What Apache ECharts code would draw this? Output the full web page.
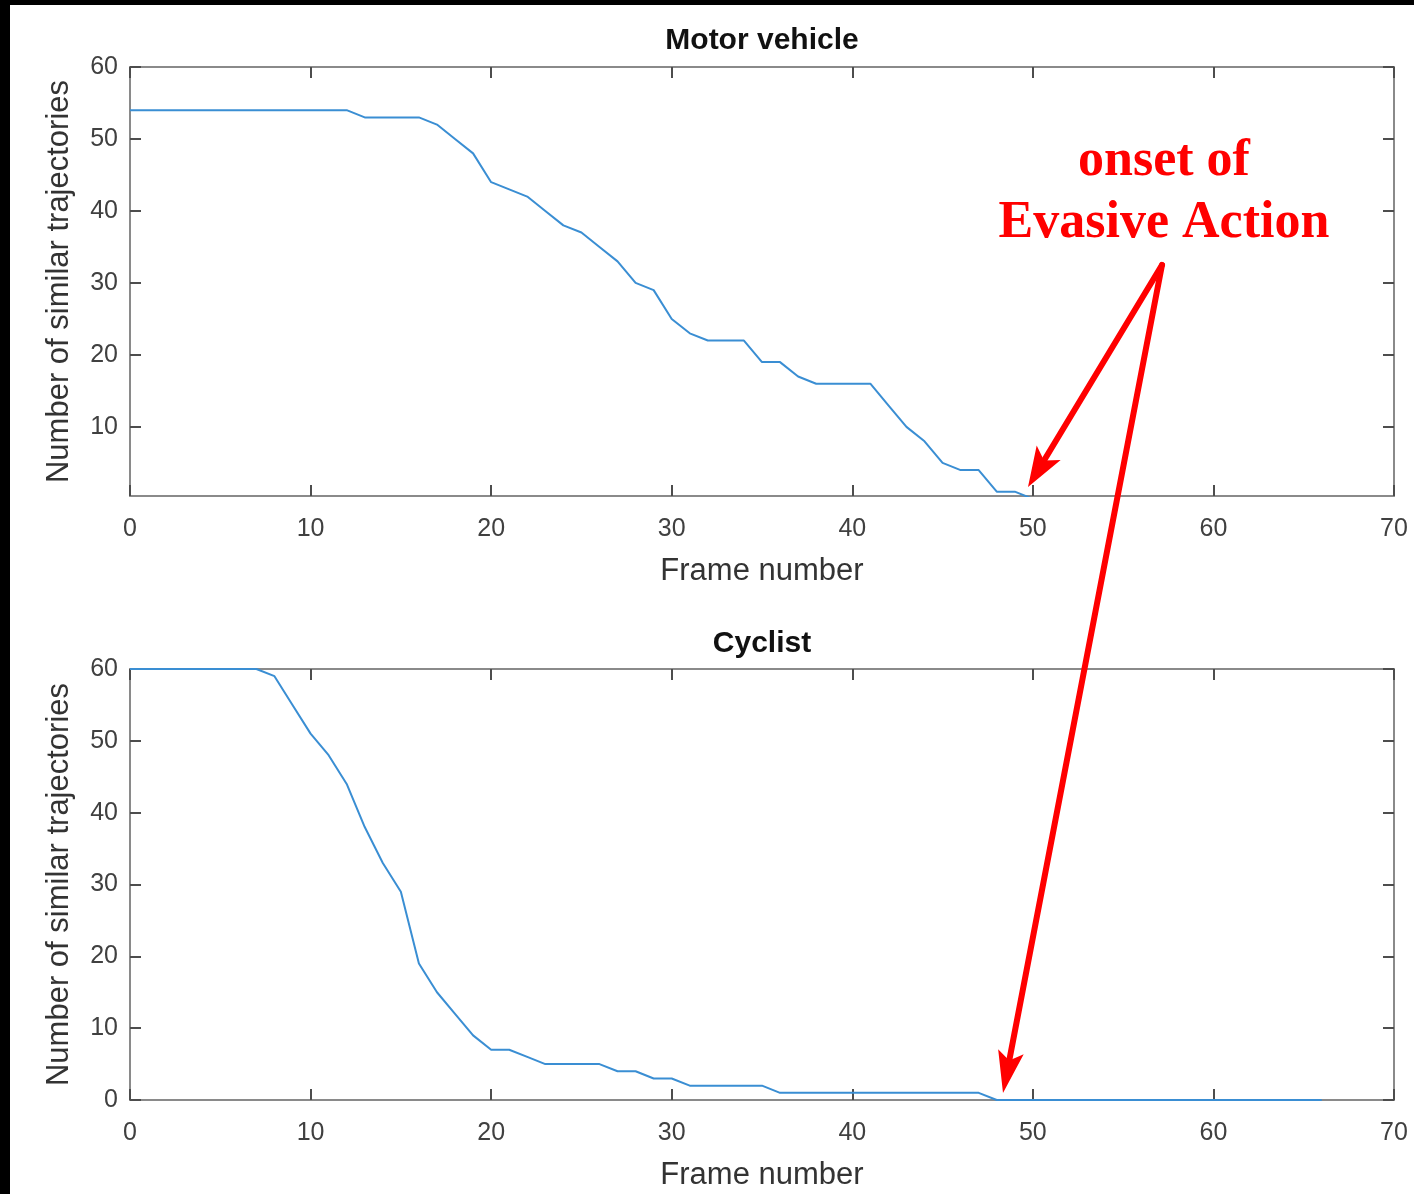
<!DOCTYPE html>
<html>
<head>
<meta charset="utf-8">
<script src="https://cdn.jsdelivr.net/npm/echarts@6/dist/echarts.min.js"></script>
<style>
html,body{margin:0;padding:0;background:#fff;}
#chart{width:1414px;height:1194px;}
</style>
</head>
<body>
<div id="chart"></div>
<script>
// ---- data ----
const motorFrames = [0,1,2,3,4,5,6,7,8,9,10,11,12,13,14,15,16,17,18,19,20,21,22,23,24,25,26,27,28,29,30,31,32,33,34,35,36,37,38,39,40,41,42,43,44,45,46,47,48,49,50];
const motorValues = [54,54,54,54,54,54,54,54,54,54,54,54,54,53,53,53,53,52,50,48,44,43,42,40,38,37,35,33,30,29,25,23,22,22,22,19,19,17,16,16,16,16,13,10,8,5,4,4,1,1,0];
const cyclistFrames = [0,1,2,3,4,5,6,7,8,9,10,11,12,13,14,15,16,17,18,19,20,21,22,23,24,25,26,27,28,29,30,31,32,33,34,35,36,37,38,39,40,41,42,43,44,45,46,47,48,49,50,51,52,53,54,55,56,57,58,59,60,61,62,63,64,65,66];
const cyclistValues = [60,60,60,60,60,60,60,60,59,55,51,48,44,38,33,29,19,15,12,9,7,7,6,5,5,5,5,4,4,3,3,2,2,2,2,2,1,1,1,1,1,1,1,1,1,1,1,1,0,0,0,0,0,0,0,0,0,0,0,0,0,0,0,0,0,0,0];
const xTicks = [0,10,20,30,40,50,60,70];
const yTicks = [10,20,30,40,50,60];
const titles = ['Motor vehicle','Cyclist'];
const xName = 'Frame number';
const yName = 'Number of similar trajectories';
const noteLines = ['onset of','Evasive Action'];

const pair = (xs, ys) => xs.map((x, i) => [x, ys[i]]);

const FONT = 'Liberation Sans, Arial, sans-serif';
const axisLineCol = '#8a8a8a';
const tickCol = '#4d4d4d';
const labelCol = '#404040';

function xAx(grid, top, showName){
  return {
    type:'value', gridIndex:grid, position: top ? 'top' : 'bottom',
    min:0, max:70, interval:10,
    axisLine:{show:true, onZero:false, lineStyle:{color:axisLineCol, width:2}},
    axisTick:{show:true, inside:true, length:11, lineStyle:{color:tickCol, width:2}},
    axisLabel:{show:!top, color:labelCol, fontSize:25, fontFamily:FONT, margin:21},
    splitLine:{show:false},
    name: showName ? xName : '', nameLocation:'middle', nameGap:60,
    nameTextStyle:{fontSize:31, color:'#333', fontFamily:FONT}
  };
}
function yAx(grid, right, minV, showName){
  const vals = yTicks.concat(minV === 0 ? [0] : []);
  return {
    type:'value', gridIndex:grid, position: right ? 'right' : 'left',
    min:minV, max:60,
    axisLine:{show:true, onZero:false, lineStyle:{color:axisLineCol, width:2}},
    axisTick:{show:true, inside:true, length:11, customValues:vals, lineStyle:{color:tickCol, width:2}},
    axisLabel:{show:!right, color:labelCol, fontSize:25, fontFamily:FONT, margin:12, customValues:vals},
    splitLine:{show:false},
    name: showName ? yName : '', nameLocation:'middle', nameGap:55,
    nameTextStyle:{fontSize:31, color:'#333', fontFamily:FONT}
  };
}

const chart = echarts.init(document.getElementById('chart'), null, {renderer:'canvas'});

// arrow geometry (annotation)
function arrow(sx, sy, tx, ty, headLen, halfW, notch){
  const dx = tx - sx, dy = ty - sy, L = Math.hypot(dx, dy);
  const ux = dx / L, uy = dy / L, nx = -uy, ny = ux;
  const bx = tx - headLen*ux, by = ty - headLen*uy;
  const cx = tx - (headLen - notch)*ux, cy = ty - (headLen - notch)*uy;
  return [
    {type:'line', shape:{x1:sx, y1:sy, x2:cx, y2:cy}, style:{stroke:'#ff0000', lineWidth:6, lineCap:'round'}, z:100},
    {type:'polygon', shape:{points:[[tx,ty],[bx+halfW*nx, by+halfW*ny],[cx,cy],[bx-halfW*nx, by-halfW*ny]]}, style:{fill:'#ff0000'}, z:100}
  ];
}

const option = {
  backgroundColor:'#fff',
  animation:false,
  title:[
    {text:titles[0], left:762, textAlign:'center', top:26, padding:0, textStyle:{fontSize:30, fontWeight:'bold', color:'#111', fontFamily:FONT}},
    {text:titles[1], left:762, textAlign:'center', top:629, padding:0, textStyle:{fontSize:30, fontWeight:'bold', color:'#111', fontFamily:FONT}}
  ],
  grid:[
    {left:130, right:20, top:67, height:429},
    {left:130, right:20, top:669, height:431}
  ],
  xAxis:[xAx(0,false,true), xAx(0,true,false), xAx(1,false,true), xAx(1,true,false)],
  yAxis:[yAx(0,false,0.4,true), yAx(0,true,0.4,false), yAx(1,false,0,true), yAx(1,true,0,false)],
  series:[
    {type:'line', xAxisIndex:0, yAxisIndex:0, data:pair(motorFrames, motorValues), showSymbol:false, clip:true,
     lineStyle:{color:'#3a8ed3', width:2}, z:5},
    {type:'line', xAxisIndex:2, yAxisIndex:2, data:pair(cyclistFrames, cyclistValues), showSymbol:false, clip:false,
     lineStyle:{color:'#3a8ed3', width:2}, z:5}
  ],
  graphic:[
    {type:'rect', shape:{x:0, y:0, width:1414, height:5}, style:{fill:'#000'}, z:200},
    {type:'rect', shape:{x:0, y:0, width:10, height:1194}, style:{fill:'#000'}, z:200},
    {type:'text', x:1164, y:162, style:{text:noteLines[0], fill:'#ff0000', font:'bold 52px "Liberation Serif", "Times New Roman", serif', textAlign:'center', textVerticalAlign:'middle'}, z:100},
    {type:'text', x:1164, y:224, style:{text:noteLines[1], fill:'#ff0000', font:'bold 52px "Liberation Serif", "Times New Roman", serif', textAlign:'center', textVerticalAlign:'middle'}, z:100}
  ].concat(arrow(1162,265,1028,487,40,14,9)).concat(arrow(1162,265,1003,1093,42,13,9))
};
chart.setOption(option);
</script>
</body>
</html>
